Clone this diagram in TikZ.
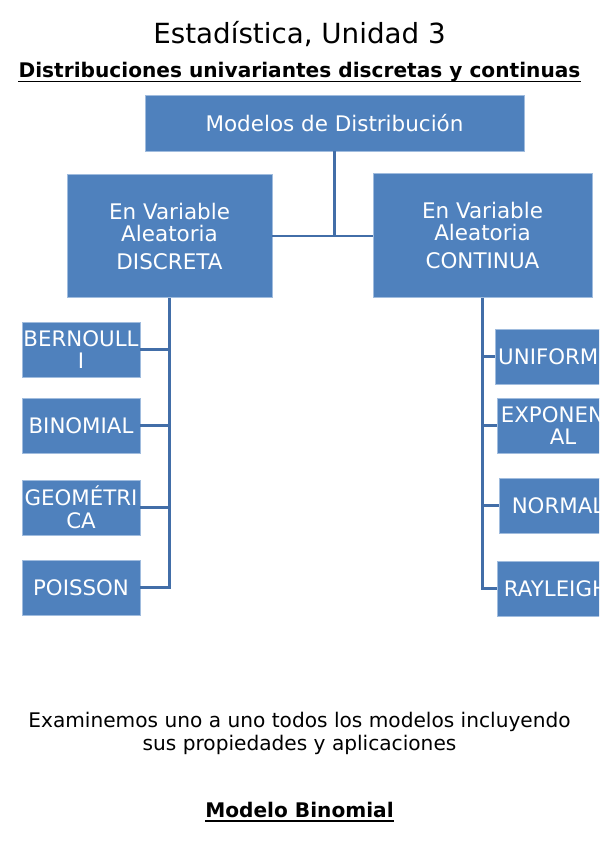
\documentclass[tikz,border=0pt]{standalone}
\usepackage{fontspec}
\setmainfont{DejaVu Sans}
\usetikzlibrary{positioning}
\definecolor{mBlue}{RGB}{79,129,189}
\definecolor{mEdge}{RGB}{160,188,222}
\definecolor{mLine}{RGB}{66,110,168}
\tikzset{
  root/.style={rectangle, draw=mEdge, line width=0.6pt, fill=mBlue, text=white,
               minimum width=284.25pt, minimum height=42pt, align=center,
               font=\fontsize{16.1}{16.5}\selectfont, inner sep=0pt},
  kind/.style={root, minimum height=92.5pt},
  leaf/.style={root, minimum width=88.5pt, minimum height=41.25pt,
               font=\fontsize{16}{17}\selectfont},
  link/.style={draw=mLine, line width=1.9pt},
  ttl/.style={anchor=base, inner sep=0pt, font=\fontsize{20.8}{25}\selectfont},
  head/.style={anchor=base, inner sep=0pt, font=\fontsize{15.1}{18}\selectfont\bfseries},
  body/.style={anchor=base, inner sep=0pt, font=\fontsize{15.1}{18}\selectfont},
  uline/.style={draw=black, line width=1.2pt},
}
\newcommand{\Leaf}[4][]{% [options]{name}{centre}{text}
  \node[leaf,#1] (#2) at (#3) {#4};}

\begin{document}
\begin{tikzpicture}[x=0.75pt, y=-0.75pt]
  \useasboundingbox (0,0) rectangle (599,848);
  \clip (0,0) rectangle (599,848);

  % ===== headings =======================================================
  \node[ttl] (title) at (299.5,43.5) {Estadística, Unidad 3};
  \node[head] (sub) at (299.5,77.7) {Distribuciones univariantes discretas y continuas};
  \draw[uline] ([yshift=-3pt]sub.base west) -- ([yshift=-3pt]sub.base east);

  % ===== tree ===========================================================
  \node[root] (mod) at (334.5,123) {Modelos de Distribución};
  \node[kind, minimum width=153.75pt] (dis) at (169.5,236)
       {En Variable\\Aleatoria\\[4.5pt]DISCRETA};
  \node[kind, minimum width=164.25pt] (con) at (482.5,235.5)
       {En Variable\\Aleatoria\\[4.5pt]CONTINUA};

  % discrete leaves (left)
  \Leaf{ber}{81,349.5}{BERNOULL\\I}
  \Leaf{bin}{81,425.5}{BINOMIAL}
  \Leaf{geo}{81,507.5}{GEOMÉTRI\\CA}
  \Leaf{poi}{81,587.5}{POISSON}
  % continuous leaves (right, cut by the page edge)
  \Leaf[minimum width=90pt]{uni}{555,356.5}{UNIFORME}
  \Leaf[minimum width=99pt]{exn}{563,425.5}{EXPONENCI\\AL}
  \Leaf{nor}{558,505.5}{NORMAL}
  \Leaf{ray}{556,588.5}{RAYLEIGH}

  % ===== connectors =====================================================
  \draw[link] (mod.south) -- (mod.south |- dis.east);
  \draw[link] (dis.east) -- (con.west |- dis.east);
  \draw[link] (dis.south) |- (poi.east);
  \foreach \n in {ber,bin,geo}
    \draw[link] (dis.south |- \n.east) -- (\n.east);
  \draw[link] (con.south) |- (ray.west);
  \foreach \n in {uni,exn,nor}
    \draw[link] (con.south |- \n.west) -- (\n.west);

  % ===== closing text ===================================================
  \node[body] (exa) at (299.5,727) {Examinemos uno a uno todos los modelos incluyendo};
  \node[body] (apl) at (299.5,750) {sus propiedades y aplicaciones};
  \node[head] (bino) at (299.5,817) {Modelo Binomial};
  \draw[uline] ([yshift=-3pt]bino.base west) -- ([yshift=-3pt]bino.base east);
\end{tikzpicture}
\end{document}
